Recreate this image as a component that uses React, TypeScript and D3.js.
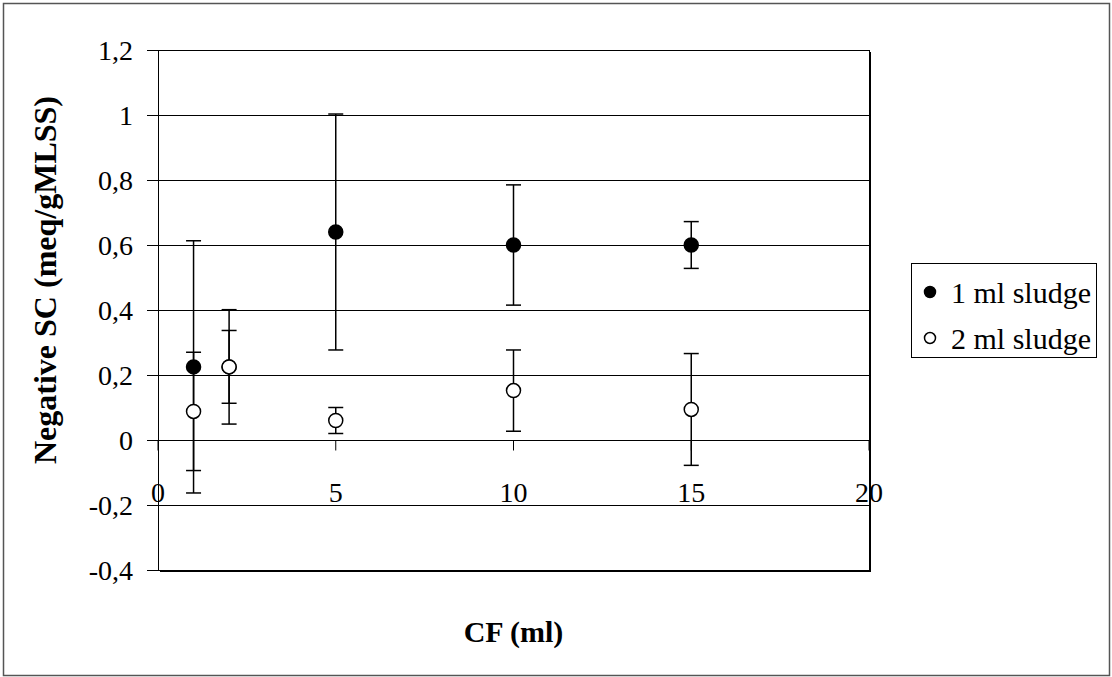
import * as d3 from 'd3';
import React, { useEffect, useRef } from 'react';

// CF dose (ml) and negative surface charge (meq/gMLSS)
const cfValues = [1, 2, 5, 10, 15];
const sludge1Mean = [0.225, 0.225, 0.64, 0.6, 0.6];
const sludge1Err = [0.388, 0.176, 0.363, 0.185, 0.072];
const sludge2Mean = [0.088, 0.225, 0.06, 0.152, 0.094];
const sludge2Err = [0.182, 0.112, 0.04, 0.125, 0.172];
const xTicks = [0, 5, 10, 15, 20];
const yTicks = [-0.4, -0.2, 0, 0.2, 0.4, 0.6, 0.8, 1, 1.2];
const seriesNames = ['1 ml sludge', '2 ml sludge'];

const width = 1112;
const height = 677;
const FONT = "'Liberation Serif', 'DejaVu Serif', 'Times New Roman', serif";

const App: React.FC = () => {
  const ref = useRef<SVGSVGElement>(null);

  useEffect(() => {
    if (!ref.current) return;
    const svg = d3.select(ref.current);
    svg.selectAll('*').remove();

    const left = 158;
    const right = 869;
    const top = 50;
    const bottom = 570;

    const x = d3.scaleLinear().domain([0, 20]).range([left, right]);
    const y = d3.scaleLinear().domain([-0.4, 1.2]).range([bottom, top]);
    const fmt = (v: number) => d3.format('~g')(+v.toFixed(1)).replace('.', ',').replace('−', '-');

    // outer chart border
    svg
      .append('rect')
      .attr('x', 3.5)
      .attr('y', 3.5)
      .attr('width', 1106)
      .attr('height', 672)
      .attr('fill', 'white')
      .attr('stroke', '#555')
      .attr('stroke-width', 1.5);

    // gridlines
    svg
      .append('g')
      .selectAll('line')
      .data(yTicks)
      .join('line')
      .attr('x1', left)
      .attr('x2', right)
      .attr('y1', (d) => Math.round(y(d)) + 0.5)
      .attr('y2', (d) => Math.round(y(d)) + 0.5)
      .attr('stroke', 'black')
      .attr('stroke-width', 1);

    // plot area border
    svg
      .append('rect')
      .attr('x', left + 0.5)
      .attr('y', top + 0.5)
      .attr('width', right - left)
      .attr('height', bottom - top)
      .attr('fill', 'none')
      .attr('stroke', 'black')
      .attr('stroke-width', 1);
    svg
      .append('path')
      .attr('d', `M${right + 1},${top + 2}V${bottom + 1}H${left + 2}`)
      .attr('fill', 'none')
      .attr('stroke', 'black')
      .attr('stroke-width', 2);

    // y axis ticks and labels
    const yAxis = svg.append('g');
    yAxis
      .selectAll('line')
      .data(yTicks)
      .join('line')
      .attr('x1', left - 11)
      .attr('x2', left)
      .attr('y1', (d) => Math.round(y(d)) + 0.5)
      .attr('y2', (d) => Math.round(y(d)) + 0.5)
      .attr('stroke', 'black');
    yAxis
      .selectAll('text')
      .data(yTicks)
      .join('text')
      .attr('x', left - 25)
      .attr('y', (d) => y(d))
      .attr('dy', '0.35em')
      .attr('text-anchor', 'end')
      .attr('font-family', FONT)
      .attr('font-size', 28)
      .text((d) => fmt(d));

    // x axis at y = 0
    const x0 = Math.round(y(0)) + 0.5;
    const xAxis = svg.append('g');
    xAxis
      .selectAll('line')
      .data(xTicks)
      .join('line')
      .attr('x1', (d) => x(d))
      .attr('x2', (d) => x(d))
      .attr('y1', x0)
      .attr('y2', x0 + 10)
      .attr('stroke', 'black');
    xAxis
      .selectAll('text')
      .data(xTicks)
      .join('text')
      .attr('x', (d) => x(d))
      .attr('y', x0 + 61)
      .attr('text-anchor', 'middle')
      .attr('font-family', FONT)
      .attr('font-size', 28)
      .text((d) => String(d));

    const series = [
      { name: seriesNames[0], mean: sludge1Mean, err: sludge1Err, fill: 'black' },
      { name: seriesNames[1], mean: sludge2Mean, err: sludge2Err, fill: 'white' },
    ];

    // error bars
    series.forEach((s) => {
      const g = svg.append('g').attr('stroke', 'black').attr('stroke-width', 1.5);
      cfValues.forEach((cf, i) => {
        const cx = x(cf);
        const hi = y(s.mean[i] + s.err[i]);
        const lo = y(s.mean[i] - s.err[i]);
        g.append('line').attr('x1', cx).attr('x2', cx).attr('y1', hi).attr('y2', lo);
        g.append('line').attr('x1', cx - 7.5).attr('x2', cx + 7.5).attr('y1', hi).attr('y2', hi);
        g.append('line').attr('x1', cx - 7.5).attr('x2', cx + 7.5).attr('y1', lo).attr('y2', lo);
      });
    });

    // markers
    series.forEach((s) => {
      svg
        .append('g')
        .selectAll('circle')
        .data(cfValues)
        .join('circle')
        .attr('cx', (d) => x(d))
        .attr('cy', (_, i) => y(s.mean[i]))
        .attr('r', 7)
        .attr('fill', s.fill)
        .attr('stroke', 'black')
        .attr('stroke-width', 1.5);
    });

    // axis titles
    svg
      .append('text')
      .attr('x', (left + right) / 2)
      .attr('y', 642)
      .attr('text-anchor', 'middle')
      .attr('font-family', FONT)
      .attr('font-size', 30)
      .attr('font-weight', 'bold')
      .text('CF (ml)');
    svg
      .append('text')
      .attr('transform', `translate(56,280) rotate(-90)`)
      .attr('text-anchor', 'middle')
      .attr('font-family', FONT)
      .attr('font-size', 32)
      .attr('font-weight', 'bold')
      .text('Negative SC (meq/gMLSS)');

    // legend
    const legend = svg.append('g').attr('transform', 'translate(911,263)');
    legend
      .append('rect')
      .attr('x', 0.5)
      .attr('y', 0.5)
      .attr('width', 185)
      .attr('height', 94)
      .attr('fill', 'white')
      .attr('stroke', 'black');
    series.forEach((s, i) => {
      const row = legend.append('g').attr('transform', `translate(0,${29 + i * 46})`);
      row
        .append('circle')
        .attr('cx', 19)
        .attr('cy', 0)
        .attr('r', 5.5)
        .attr('fill', s.fill)
        .attr('stroke', 'black')
        .attr('stroke-width', 1.5);
      row
        .append('text')
        .attr('x', 40)
        .attr('y', 0)
        .attr('dy', '0.35em')
        .attr('font-family', FONT)
        .attr('font-size', 30)
        .text(s.name);
    });
  }, []);

  return (
    <svg
      ref={ref}
      width={width}
      height={height}
      viewBox={`0 0 ${width} ${height}`}
      style={{ position: 'absolute', left: 0, top: 0 }}
    ></svg>
  );
};

export default App;
